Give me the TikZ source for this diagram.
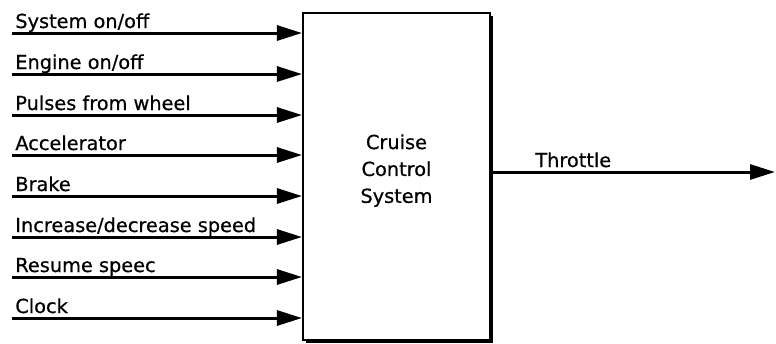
\documentclass[tikz,border=0pt]{standalone}
\usepackage{fontspec}
\setmainfont{DejaVu Sans}[FakeBold=0.6]
\usetikzlibrary{arrows.meta,shadows}

\begin{document}
\begin{tikzpicture}[x=0.02cm, y=-0.02cm,
        font=\fontsize{11}{15.3}\selectfont,
        signal/.style={line width=1.7pt, -{Triangle[length=0.5cm, width=0.3cm]}},
        lbl/.style={anchor=base west, inner sep=0pt, xshift=0.06cm, yshift=0.1cm}]
        \useasboundingbox (0, 0) rectangle (776, 343);

        \node[draw, line width=1.2pt, fill=white, minimum width=3.74cm, minimum height=6.54cm, align=center,
              drop shadow={shadow xshift=0.06cm, shadow yshift=-0.06cm, fill=black, opacity=1}]
              (CCS) at (396.5, 176.5) {Cruise\\Control\\System\\[-6.3pt]};

        \coordinate (S1) at (12, 33);
        \coordinate (S2) at (12, 74);
        \coordinate (S3) at (12, 115);
        \coordinate (S4) at (12, 155);
        \coordinate (S5) at (12, 196);
        \coordinate (S6) at (12, 237);
        \coordinate (S7) at (12, 277);
        \coordinate (S8) at (12, 318);
        \coordinate (T) at (775, 172);

        \node[lbl] (L1) at (S1) {System on/off};
        \node[lbl] (L2) at (S2) {Engine on/off};
        \node[lbl] (L3) at (S3) {Pulses from wheel};
        \node[lbl] (L4) at (S4) {Accelerator};
        \node[lbl] (L5) at (S5) {Brake};
        \node[lbl] (L6) at (S6) {Increase/decrease speed};
        \node[lbl] (L7) at (S7) {Resume speec};
        \node[lbl] (L8) at (S8) {Clock};
        \node[lbl] (LT) at (532, 172) {Throttle};

        \draw[signal] (S1) -- (S1 -| CCS.west);
        \draw[signal] (S2) -- (S2 -| CCS.west);
        \draw[signal] (S3) -- (S3 -| CCS.west);
        \draw[signal] (S4) -- (S4 -| CCS.west);
        \draw[signal] (S5) -- (S5 -| CCS.west);
        \draw[signal] (S6) -- (S6 -| CCS.west);
        \draw[signal] (S7) -- (S7 -| CCS.west);
        \draw[signal] (S8) -- (S8 -| CCS.west);
        \draw[signal] (CCS.east |- T) -- (T);
    \end{tikzpicture}
\end{document}
